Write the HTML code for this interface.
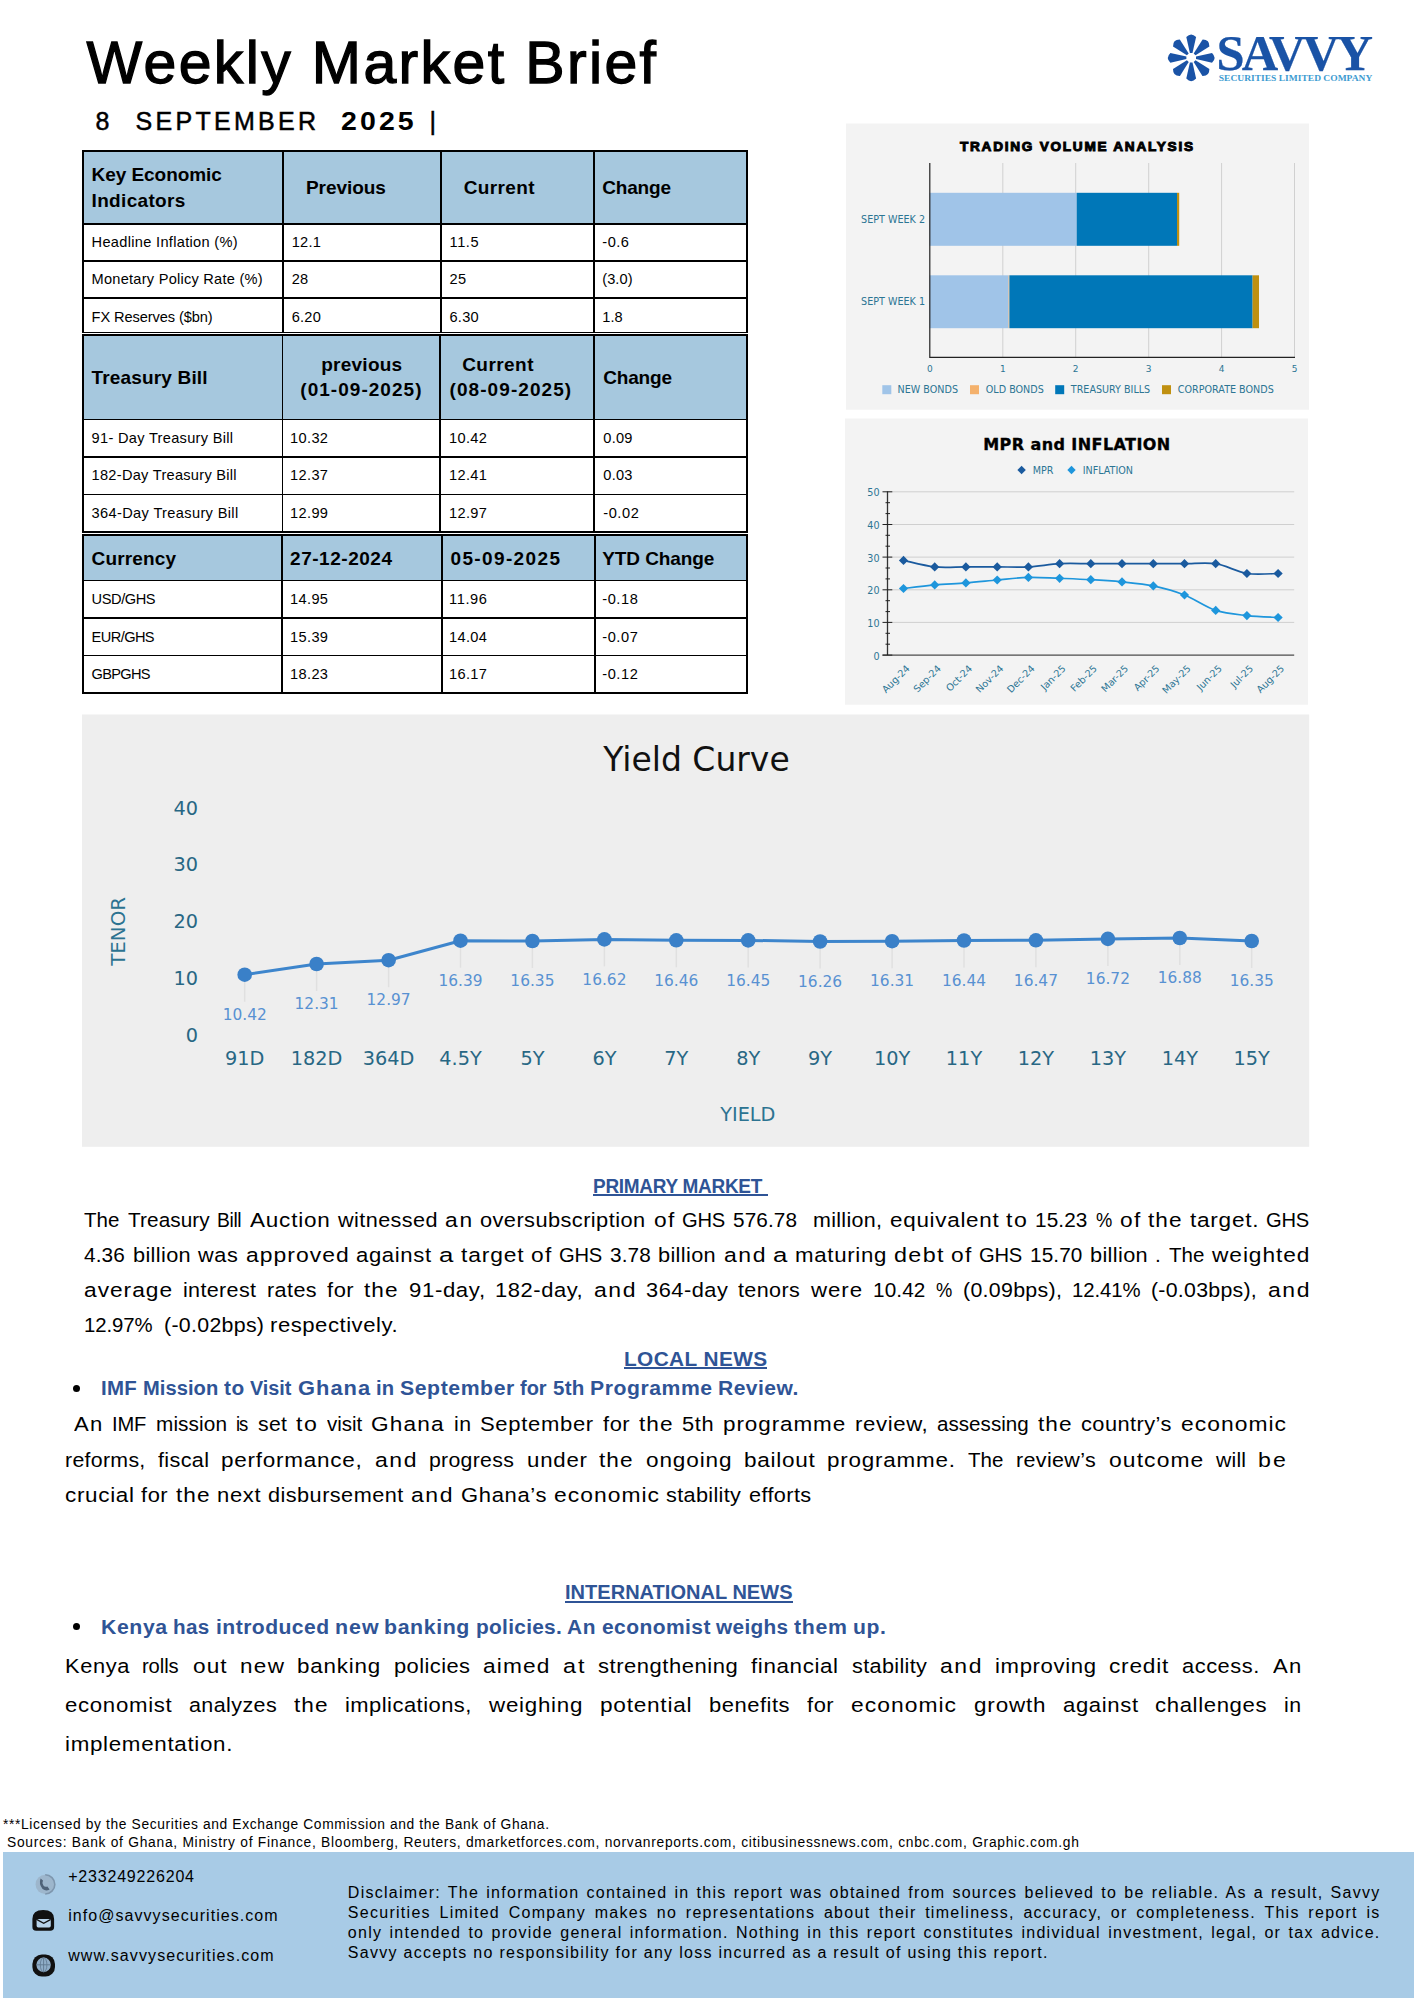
<!DOCTYPE html>
<html lang="en"><head><meta charset="utf-8"><title>Weekly Market Brief</title>
<style>
html,body{margin:0;padding:0;background:#fff;}
body{width:1414px;height:2000px;position:relative;overflow:hidden;font-family:"Liberation Sans",Arial,sans-serif;}
.t{position:absolute;white-space:pre;margin:0;padding:0;}
.b{position:absolute;}
svg{position:absolute;left:0;top:0;}
svg text{white-space:pre;}
</style></head><body>
<div class="t" style="left:86.5px;top:30px;font:normal 59px/66px 'Liberation Sans', Arial, sans-serif;color:#000;-webkit-text-stroke:1.3px #000;letter-spacing:2.374px;">Weekly Market Brief</div>
<div class="t" style="left:95.5px;top:107px;font:normal 25px/28px 'Liberation Sans', Arial, sans-serif;color:#000;-webkit-text-stroke:0.5px #000;">8</div>
<div class="t" style="left:135.6px;top:107px;font:normal 25px/28px 'Liberation Sans', Arial, sans-serif;color:#000;-webkit-text-stroke:0.5px #000;letter-spacing:3.287px;">SEPTEMBER</div>
<div class="t" style="left:341px;top:107px;font:bold 25px/28px 'Liberation Sans', Arial, sans-serif;color:#000;letter-spacing:2.716px;transform:scaleX(1.14);transform-origin:0 0;">2025</div>
<div class="t" style="left:429.5px;top:107px;font:normal 25px/28px 'Liberation Sans', Arial, sans-serif;color:#000;-webkit-text-stroke:0.5px #000;">|</div>
<svg width="1414" height="130" viewBox="0 0 1414 130">
<path transform="rotate(0 1191.2 57.8)" d="M1189.9 53.0 L1186.3 37.0 Q1191.2 31.799999999999997 1196.1000000000001 37.0 L1192.5 53.0 Z" fill="#1A53A6"/>
<path transform="rotate(45 1191.2 57.8)" d="M1189.9 53.0 L1186.3 37.0 Q1191.2 31.799999999999997 1196.1000000000001 37.0 L1192.5 53.0 Z" fill="#1A53A6"/>
<path transform="rotate(90 1191.2 57.8)" d="M1189.9 53.0 L1186.3 37.0 Q1191.2 31.799999999999997 1196.1000000000001 37.0 L1192.5 53.0 Z" fill="#1A53A6"/>
<path transform="rotate(135 1191.2 57.8)" d="M1189.9 53.0 L1186.3 37.0 Q1191.2 31.799999999999997 1196.1000000000001 37.0 L1192.5 53.0 Z" fill="#1A53A6"/>
<path transform="rotate(180 1191.2 57.8)" d="M1189.9 53.0 L1186.3 37.0 Q1191.2 31.799999999999997 1196.1000000000001 37.0 L1192.5 53.0 Z" fill="#1A53A6"/>
<path transform="rotate(225 1191.2 57.8)" d="M1189.9 53.0 L1186.3 37.0 Q1191.2 31.799999999999997 1196.1000000000001 37.0 L1192.5 53.0 Z" fill="#1A53A6"/>
<path transform="rotate(270 1191.2 57.8)" d="M1189.9 53.0 L1186.3 37.0 Q1191.2 31.799999999999997 1196.1000000000001 37.0 L1192.5 53.0 Z" fill="#1A53A6"/>
<path transform="rotate(315 1191.2 57.8)" d="M1189.9 53.0 L1186.3 37.0 Q1191.2 31.799999999999997 1196.1000000000001 37.0 L1192.5 53.0 Z" fill="#1A53A6"/>
<circle cx="1191.2" cy="57.8" r="3.4" fill="#fff"/>
<text x="1216.5" y="69.6" font-family="'Liberation Serif', 'Times New Roman', serif" font-weight="bold" font-size="50.5" fill="#1A53A6" stroke="#1A53A6" stroke-width="0.25" textLength="156.5" lengthAdjust="spacing">SAVVY</text>
<text x="1218.8" y="81" font-family="'Liberation Serif', 'Times New Roman', serif" font-weight="bold" font-size="8.9" fill="#3D9BD1" textLength="153.5" lengthAdjust="spacingAndGlyphs">SECURITIES LIMITED COMPANY</text>
</svg>
<div class="b" style="left:82.9px;top:151.0px;width:664.1px;height:73.0px;background:#A6C8DE;"></div>
<div class="b" style="left:82.025px;top:150.125px;width:665.85px;height:1.75px;background:#000;"></div>
<div class="b" style="left:82.025px;top:223.125px;width:665.85px;height:1.75px;background:#000;"></div>
<div class="b" style="left:82.025px;top:260.025px;width:665.85px;height:1.75px;background:#000;"></div>
<div class="b" style="left:82.025px;top:297.425px;width:665.85px;height:1.75px;background:#000;"></div>
<div class="b" style="left:82.025px;top:331.725px;width:665.85px;height:1.75px;background:#000;"></div>
<div class="b" style="left:82.025px;top:150.125px;width:1.75px;height:183.35000000000002px;background:#000;"></div>
<div class="b" style="left:282.325px;top:150.125px;width:1.75px;height:183.35000000000002px;background:#000;"></div>
<div class="b" style="left:440.425px;top:150.125px;width:1.75px;height:183.35000000000002px;background:#000;"></div>
<div class="b" style="left:593.125px;top:150.125px;width:1.75px;height:183.35000000000002px;background:#000;"></div>
<div class="b" style="left:746.125px;top:150.125px;width:1.75px;height:183.35000000000002px;background:#000;"></div>
<div class="t" style="left:91.6px;top:164px;font:bold 19px/21px 'Liberation Sans', Arial, sans-serif;color:#000;letter-spacing:-0.058px;">Key Economic</div>
<div class="t" style="left:91.6px;top:190px;font:bold 19px/21px 'Liberation Sans', Arial, sans-serif;color:#000;letter-spacing:0.321px;">Indicators</div>
<div class="t" style="left:305.9px;top:177px;font:bold 19px/21px 'Liberation Sans', Arial, sans-serif;color:#000;letter-spacing:-0.038px;">Previous</div>
<div class="t" style="left:463.8px;top:177px;font:bold 19px/21px 'Liberation Sans', Arial, sans-serif;color:#000;letter-spacing:0.346px;">Current</div>
<div class="t" style="left:602.3px;top:177px;font:bold 19px/21px 'Liberation Sans', Arial, sans-serif;color:#000;letter-spacing:-0.197px;">Change</div>
<div class="t" style="left:91.6px;top:234px;font:normal 14.6px/16px 'Liberation Sans', Arial, sans-serif;color:#000;letter-spacing:0.308px;">Headline Inflation (%)</div>
<div class="t" style="left:291.7px;top:234px;font:normal 14.6px/16px 'Liberation Sans', Arial, sans-serif;color:#000;letter-spacing:0.248px;">12.1</div>
<div class="t" style="left:449.5px;top:234px;font:normal 14.6px/16px 'Liberation Sans', Arial, sans-serif;color:#000;letter-spacing:0.607px;">11.5</div>
<div class="t" style="left:602.3px;top:234px;font:normal 14.6px/16px 'Liberation Sans', Arial, sans-serif;color:#000;letter-spacing:0.515px;">-0.6</div>
<div class="t" style="left:91.6px;top:271px;font:normal 14.6px/16px 'Liberation Sans', Arial, sans-serif;color:#000;letter-spacing:0.241px;">Monetary Policy Rate (%)</div>
<div class="t" style="left:291.7px;top:271px;font:normal 14.6px/16px 'Liberation Sans', Arial, sans-serif;color:#000;letter-spacing:0.266px;">28</div>
<div class="t" style="left:449.5px;top:271px;font:normal 14.6px/16px 'Liberation Sans', Arial, sans-serif;color:#000;letter-spacing:0.266px;">25</div>
<div class="t" style="left:602.3px;top:271px;font:normal 14.6px/16px 'Liberation Sans', Arial, sans-serif;color:#000;letter-spacing:0.046px;">(3.0)</div>
<div class="t" style="left:91.6px;top:309px;font:normal 14.6px/16px 'Liberation Sans', Arial, sans-serif;color:#000;letter-spacing:-0.092px;">FX Reserves ($bn)</div>
<div class="t" style="left:291.7px;top:309px;font:normal 14.6px/16px 'Liberation Sans', Arial, sans-serif;color:#000;letter-spacing:0.248px;">6.20</div>
<div class="t" style="left:449.5px;top:309px;font:normal 14.6px/16px 'Liberation Sans', Arial, sans-serif;color:#000;letter-spacing:0.248px;">6.30</div>
<div class="t" style="left:602.3px;top:309px;font:normal 14.6px/16px 'Liberation Sans', Arial, sans-serif;color:#000;letter-spacing:0.052px;">1.8</div>
<div class="b" style="left:82.9px;top:335.2px;width:664.2px;height:84.30000000000001px;background:#A6C8DE;"></div>
<div class="b" style="left:82.025px;top:334.325px;width:665.95px;height:1.75px;background:#000;"></div>
<div class="b" style="left:82.025px;top:418.625px;width:665.95px;height:1.75px;background:#000;"></div>
<div class="b" style="left:82.025px;top:456.125px;width:665.95px;height:1.75px;background:#000;"></div>
<div class="b" style="left:82.025px;top:493.625px;width:665.95px;height:1.75px;background:#000;"></div>
<div class="b" style="left:82.025px;top:530.825px;width:665.95px;height:1.75px;background:#000;"></div>
<div class="b" style="left:82.025px;top:334.325px;width:1.75px;height:198.25000000000006px;background:#000;"></div>
<div class="b" style="left:281.525px;top:334.325px;width:1.75px;height:198.25000000000006px;background:#000;"></div>
<div class="b" style="left:439.425px;top:334.325px;width:1.75px;height:198.25000000000006px;background:#000;"></div>
<div class="b" style="left:593.425px;top:334.325px;width:1.75px;height:198.25000000000006px;background:#000;"></div>
<div class="b" style="left:746.225px;top:334.325px;width:1.75px;height:198.25000000000006px;background:#000;"></div>
<div class="t" style="left:91.6px;top:367px;font:bold 19px/21px 'Liberation Sans', Arial, sans-serif;color:#000;letter-spacing:0.161px;">Treasury Bill</div>
<div class="t" style="left:321.2px;top:354px;font:bold 19px/21px 'Liberation Sans', Arial, sans-serif;color:#000;letter-spacing:0.257px;">previous</div>
<div class="t" style="left:300.3px;top:379px;font:bold 19px/21px 'Liberation Sans', Arial, sans-serif;color:#000;letter-spacing:1.032px;">(01-09-2025)</div>
<div class="t" style="left:462.2px;top:354px;font:bold 19px/21px 'Liberation Sans', Arial, sans-serif;color:#000;letter-spacing:0.446px;">Current</div>
<div class="t" style="left:449.5px;top:379px;font:bold 19px/21px 'Liberation Sans', Arial, sans-serif;color:#000;letter-spacing:1.078px;">(08-09-2025)</div>
<div class="t" style="left:603.3px;top:367px;font:bold 19px/21px 'Liberation Sans', Arial, sans-serif;color:#000;letter-spacing:-0.197px;">Change</div>
<div class="t" style="left:91.6px;top:430px;font:normal 14.6px/16px 'Liberation Sans', Arial, sans-serif;color:#000;letter-spacing:0.302px;">91- Day Treasury Bill</div>
<div class="t" style="left:290.1px;top:430px;font:normal 14.6px/16px 'Liberation Sans', Arial, sans-serif;color:#000;letter-spacing:0.342px;">10.32</div>
<div class="t" style="left:449px;top:430px;font:normal 14.6px/16px 'Liberation Sans', Arial, sans-serif;color:#000;letter-spacing:0.342px;">10.42</div>
<div class="t" style="left:603.3px;top:430px;font:normal 14.6px/16px 'Liberation Sans', Arial, sans-serif;color:#000;letter-spacing:0.248px;">0.09</div>
<div class="t" style="left:91.6px;top:467px;font:normal 14.6px/16px 'Liberation Sans', Arial, sans-serif;color:#000;letter-spacing:0.274px;">182-Day Treasury Bill</div>
<div class="t" style="left:290.1px;top:467px;font:normal 14.6px/16px 'Liberation Sans', Arial, sans-serif;color:#000;letter-spacing:0.342px;">12.37</div>
<div class="t" style="left:449px;top:467px;font:normal 14.6px/16px 'Liberation Sans', Arial, sans-serif;color:#000;letter-spacing:0.342px;">12.41</div>
<div class="t" style="left:603.3px;top:467px;font:normal 14.6px/16px 'Liberation Sans', Arial, sans-serif;color:#000;letter-spacing:0.248px;">0.03</div>
<div class="t" style="left:91.6px;top:505px;font:normal 14.6px/16px 'Liberation Sans', Arial, sans-serif;color:#000;letter-spacing:0.354px;">364-Day Treasury Bill</div>
<div class="t" style="left:290.1px;top:505px;font:normal 14.6px/16px 'Liberation Sans', Arial, sans-serif;color:#000;letter-spacing:0.342px;">12.99</div>
<div class="t" style="left:449px;top:505px;font:normal 14.6px/16px 'Liberation Sans', Arial, sans-serif;color:#000;letter-spacing:0.342px;">12.97</div>
<div class="t" style="left:603.3px;top:505px;font:normal 14.6px/16px 'Liberation Sans', Arial, sans-serif;color:#000;letter-spacing:0.546px;">-0.02</div>
<div class="b" style="left:82.9px;top:534.8px;width:663.9px;height:45.60000000000002px;background:#A6C8DE;"></div>
<div class="b" style="left:82.025px;top:533.925px;width:665.65px;height:1.75px;background:#000;"></div>
<div class="b" style="left:82.025px;top:579.525px;width:665.65px;height:1.75px;background:#000;"></div>
<div class="b" style="left:82.025px;top:617.125px;width:665.65px;height:1.75px;background:#000;"></div>
<div class="b" style="left:82.025px;top:654.625px;width:665.65px;height:1.75px;background:#000;"></div>
<div class="b" style="left:82.025px;top:691.925px;width:665.65px;height:1.75px;background:#000;"></div>
<div class="b" style="left:82.025px;top:533.925px;width:1.75px;height:159.75px;background:#000;"></div>
<div class="b" style="left:281.425px;top:533.925px;width:1.75px;height:159.75px;background:#000;"></div>
<div class="b" style="left:441.025px;top:533.925px;width:1.75px;height:159.75px;background:#000;"></div>
<div class="b" style="left:593.825px;top:533.925px;width:1.75px;height:159.75px;background:#000;"></div>
<div class="b" style="left:745.925px;top:533.925px;width:1.75px;height:159.75px;background:#000;"></div>
<div class="t" style="left:91.6px;top:548px;font:bold 19px/21px 'Liberation Sans', Arial, sans-serif;color:#000;letter-spacing:0.154px;">Currency</div>
<div class="t" style="left:290.1px;top:548px;font:bold 19px/21px 'Liberation Sans', Arial, sans-serif;color:#000;letter-spacing:0.522px;">27-12-2024</div>
<div class="t" style="left:450.5px;top:548px;font:bold 19px/21px 'Liberation Sans', Arial, sans-serif;color:#000;letter-spacing:1.366px;">05-09-2025</div>
<div class="t" style="left:602.3px;top:548px;font:bold 19px/21px 'Liberation Sans', Arial, sans-serif;color:#000;letter-spacing:-0.106px;">YTD Change</div>
<div class="t" style="left:91.6px;top:591px;font:normal 14.6px/16px 'Liberation Sans', Arial, sans-serif;color:#000;letter-spacing:-0.417px;">USD/GHS</div>
<div class="t" style="left:290.1px;top:591px;font:normal 14.6px/16px 'Liberation Sans', Arial, sans-serif;color:#000;letter-spacing:0.342px;">14.95</div>
<div class="t" style="left:449px;top:591px;font:normal 14.6px/16px 'Liberation Sans', Arial, sans-serif;color:#000;letter-spacing:0.616px;">11.96</div>
<div class="t" style="left:602.3px;top:591px;font:normal 14.6px/16px 'Liberation Sans', Arial, sans-serif;color:#000;letter-spacing:0.546px;">-0.18</div>
<div class="t" style="left:91.6px;top:629px;font:normal 14.6px/16px 'Liberation Sans', Arial, sans-serif;color:#000;letter-spacing:-0.583px;">EUR/GHS</div>
<div class="t" style="left:290.1px;top:629px;font:normal 14.6px/16px 'Liberation Sans', Arial, sans-serif;color:#000;letter-spacing:0.342px;">15.39</div>
<div class="t" style="left:449px;top:629px;font:normal 14.6px/16px 'Liberation Sans', Arial, sans-serif;color:#000;letter-spacing:0.342px;">14.04</div>
<div class="t" style="left:602.3px;top:629px;font:normal 14.6px/16px 'Liberation Sans', Arial, sans-serif;color:#000;letter-spacing:0.546px;">-0.07</div>
<div class="t" style="left:91.6px;top:666px;font:normal 14.6px/16px 'Liberation Sans', Arial, sans-serif;color:#000;letter-spacing:-0.691px;">GBPGHS</div>
<div class="t" style="left:290.1px;top:666px;font:normal 14.6px/16px 'Liberation Sans', Arial, sans-serif;color:#000;letter-spacing:0.342px;">18.23</div>
<div class="t" style="left:449px;top:666px;font:normal 14.6px/16px 'Liberation Sans', Arial, sans-serif;color:#000;letter-spacing:0.342px;">16.17</div>
<div class="t" style="left:602.3px;top:666px;font:normal 14.6px/16px 'Liberation Sans', Arial, sans-serif;color:#000;letter-spacing:0.546px;">-0.12</div>
<svg width="1414" height="1160" viewBox="0 0 1414 1160" style="top:0">
<rect x="846" y="123.5" width="463" height="286.2" fill="#F3F3F3"/>
<line x1="1002.8" y1="163" x2="1002.8" y2="357" stroke="#D0D0D0" stroke-width="1"/>
<line x1="1075.7" y1="163" x2="1075.7" y2="357" stroke="#D0D0D0" stroke-width="1"/>
<line x1="1148.7" y1="163" x2="1148.7" y2="357" stroke="#D0D0D0" stroke-width="1"/>
<line x1="1221.6" y1="163" x2="1221.6" y2="357" stroke="#D0D0D0" stroke-width="1"/>
<line x1="1294.5" y1="163" x2="1294.5" y2="357" stroke="#D0D0D0" stroke-width="1"/>
<rect x="929.6" y="192.8" width="147.1" height="53.0" fill="#A0C4E8"/>
<rect x="1076.7" y="192.8" width="100.3" height="53.0" fill="#0077B8"/>
<rect x="1177.0" y="192.8" width="2.2" height="53.0" fill="#C09010"/>
<rect x="929.6" y="275.3" width="79.0" height="52.9" fill="#A0C4E8"/>
<rect x="1008.6" y="275.3" width="0.8" height="52.9" fill="#F4B16C"/>
<rect x="1009.4" y="275.3" width="243.2" height="52.9" fill="#0077B8"/>
<rect x="1252.6" y="275.3" width="6.4" height="52.9" fill="#C09010"/>
<path d="M929.8 163 V357.3 H1295.0" fill="none" stroke="#222" stroke-width="1.2"/>
<text x="1076.5" y="151.4" text-anchor="middle" font-family="'Liberation Sans', Arial, sans-serif" font-weight="bold" font-size="13.6" fill="#000" stroke="#000" stroke-width="1" textLength="233" lengthAdjust="spacing">TRADING VOLUME ANALYSIS</text>
<g font-family="'DejaVu Sans', Verdana, sans-serif" font-size="9.6" fill="#2C7593">
<text x="925" y="223" text-anchor="end">SEPT WEEK 2</text>
<text x="925" y="305.4" text-anchor="end">SEPT WEEK 1</text>
<text x="929.8" y="371.6" text-anchor="middle" font-size="9">0</text>
<text x="1002.8" y="371.6" text-anchor="middle" font-size="9">1</text>
<text x="1075.7" y="371.6" text-anchor="middle" font-size="9">2</text>
<text x="1148.7" y="371.6" text-anchor="middle" font-size="9">3</text>
<text x="1221.6" y="371.6" text-anchor="middle" font-size="9">4</text>
<text x="1294.5" y="371.6" text-anchor="middle" font-size="9">5</text>
<rect x="882.3" y="385.2" width="9" height="9" fill="#A0C4E8"/>
<text x="897.6" y="393.4">NEW BONDS</text>
<rect x="970" y="385.2" width="9" height="9" fill="#F4B16C"/>
<text x="985.8" y="393.4">OLD BONDS</text>
<rect x="1055.2" y="385.2" width="9" height="9" fill="#0077B8"/>
<text x="1070.8" y="393.4">TREASURY BILLS</text>
<rect x="1162" y="385.2" width="9" height="9" fill="#C09010"/>
<text x="1177.8" y="393.4">CORPORATE BONDS</text>
</g>
<rect x="845" y="418.5" width="463" height="286.2" fill="#F3F3F3"/>
<line x1="887.5" y1="622.4" x2="1294.2" y2="622.4" stroke="#CFCFCF" stroke-width="1"/>
<line x1="887.5" y1="589.8" x2="1294.2" y2="589.8" stroke="#CFCFCF" stroke-width="1"/>
<line x1="887.5" y1="557.1" x2="1294.2" y2="557.1" stroke="#CFCFCF" stroke-width="1"/>
<line x1="887.5" y1="524.5" x2="1294.2" y2="524.5" stroke="#CFCFCF" stroke-width="1"/>
<line x1="887.5" y1="491.8" x2="1294.2" y2="491.8" stroke="#CFCFCF" stroke-width="1"/>
<path d="M887.5 491.3 V655.1" fill="none" stroke="#333" stroke-width="1.3"/>
<path d="M882.5 655.1 H1294.2" fill="none" stroke="#222" stroke-width="1"/>
<line x1="882.5" y1="655.1" x2="892.3" y2="655.1" stroke="#222" stroke-width="1"/>
<line x1="885.5" y1="644.2" x2="890" y2="644.2" stroke="#222" stroke-width="1"/>
<line x1="885.5" y1="633.3" x2="890" y2="633.3" stroke="#222" stroke-width="1"/>
<line x1="882.5" y1="622.4" x2="892.3" y2="622.4" stroke="#222" stroke-width="1"/>
<line x1="885.5" y1="611.6" x2="890" y2="611.6" stroke="#222" stroke-width="1"/>
<line x1="885.5" y1="600.7" x2="890" y2="600.7" stroke="#222" stroke-width="1"/>
<line x1="882.5" y1="589.8" x2="892.3" y2="589.8" stroke="#222" stroke-width="1"/>
<line x1="885.5" y1="578.9" x2="890" y2="578.9" stroke="#222" stroke-width="1"/>
<line x1="885.5" y1="568.0" x2="890" y2="568.0" stroke="#222" stroke-width="1"/>
<line x1="882.5" y1="557.1" x2="892.3" y2="557.1" stroke="#222" stroke-width="1"/>
<line x1="885.5" y1="546.2" x2="890" y2="546.2" stroke="#222" stroke-width="1"/>
<line x1="885.5" y1="535.3" x2="890" y2="535.3" stroke="#222" stroke-width="1"/>
<line x1="882.5" y1="524.5" x2="892.3" y2="524.5" stroke="#222" stroke-width="1"/>
<line x1="885.5" y1="513.6" x2="890" y2="513.6" stroke="#222" stroke-width="1"/>
<line x1="885.5" y1="502.7" x2="890" y2="502.7" stroke="#222" stroke-width="1"/>
<line x1="882.5" y1="491.8" x2="892.3" y2="491.8" stroke="#222" stroke-width="1"/>
<text x="1076.7" y="450" text-anchor="middle" font-family="'DejaVu Sans', Verdana, sans-serif" font-weight="bold" font-size="16" fill="#000" stroke="#000" stroke-width="0.35" textLength="187" lengthAdjust="spacing">MPR and INFLATION</text>
<path d="M903.5 560.4 C908.5 561.4 924.7 565.9 934.7 566.9 C944.7 568.0 955.9 566.9 965.9 566.9 C975.9 566.9 987.2 566.9 997.2 566.9 C1007.2 566.9 1018.4 567.4 1028.4 566.9 C1038.4 566.4 1049.6 564.2 1059.6 563.7 C1069.6 563.1 1080.8 563.7 1090.8 563.7 C1100.8 563.7 1112.0 563.7 1122.0 563.7 C1132.0 563.7 1143.3 563.7 1153.3 563.7 C1163.3 563.7 1174.5 563.7 1184.5 563.7 C1194.5 563.7 1205.7 562.1 1215.7 563.7 C1225.7 565.2 1236.9 571.9 1246.9 573.5 C1256.9 575.0 1273.1 573.5 1278.1 573.5" fill="none" stroke="#1A5A9E" stroke-width="1.7"/>
<path d="M903.5 555.8 L908.1 560.4 L903.5 565.0 L898.9 560.4 Z" fill="#1A5A9E"/>
<path d="M934.7 562.3 L939.3 566.9 L934.7 571.5 L930.1 566.9 Z" fill="#1A5A9E"/>
<path d="M965.9 562.3 L970.5 566.9 L965.9 571.5 L961.3 566.9 Z" fill="#1A5A9E"/>
<path d="M997.2 562.3 L1001.8 566.9 L997.2 571.5 L992.6 566.9 Z" fill="#1A5A9E"/>
<path d="M1028.4 562.3 L1033.0 566.9 L1028.4 571.5 L1023.8 566.9 Z" fill="#1A5A9E"/>
<path d="M1059.6 559.1 L1064.2 563.7 L1059.6 568.3 L1055.0 563.7 Z" fill="#1A5A9E"/>
<path d="M1090.8 559.1 L1095.4 563.7 L1090.8 568.3 L1086.2 563.7 Z" fill="#1A5A9E"/>
<path d="M1122.0 559.1 L1126.6 563.7 L1122.0 568.3 L1117.4 563.7 Z" fill="#1A5A9E"/>
<path d="M1153.3 559.1 L1157.9 563.7 L1153.3 568.3 L1148.7 563.7 Z" fill="#1A5A9E"/>
<path d="M1184.5 559.1 L1189.1 563.7 L1184.5 568.3 L1179.9 563.7 Z" fill="#1A5A9E"/>
<path d="M1215.7 559.1 L1220.3 563.7 L1215.7 568.3 L1211.1 563.7 Z" fill="#1A5A9E"/>
<path d="M1246.9 568.9 L1251.5 573.5 L1246.9 578.1 L1242.3 573.5 Z" fill="#1A5A9E"/>
<path d="M1278.1 568.9 L1282.7 573.5 L1278.1 578.1 L1273.5 573.5 Z" fill="#1A5A9E"/>
<path d="M903.5 588.5 C908.5 587.9 924.7 585.8 934.7 584.9 C944.7 584.0 955.9 583.7 965.9 582.9 C975.9 582.1 987.2 580.9 997.2 580.0 C1007.2 579.1 1018.4 577.6 1028.4 577.4 C1038.4 577.1 1049.6 578.0 1059.6 578.3 C1069.6 578.7 1080.8 579.1 1090.8 579.7 C1100.8 580.2 1112.0 580.9 1122.0 581.9 C1132.0 582.9 1143.3 583.8 1153.3 585.9 C1163.3 588.0 1174.5 591.1 1184.5 595.0 C1194.5 598.9 1205.7 607.1 1215.7 610.4 C1225.7 613.6 1236.9 614.4 1246.9 615.6 C1256.9 616.7 1273.1 617.2 1278.1 617.5" fill="none" stroke="#1E96DC" stroke-width="1.7"/>
<path d="M903.5 583.9 L908.1 588.5 L903.5 593.1 L898.9 588.5 Z" fill="#1E96DC"/>
<path d="M934.7 580.3 L939.3 584.9 L934.7 589.5 L930.1 584.9 Z" fill="#1E96DC"/>
<path d="M965.9 578.3 L970.5 582.9 L965.9 587.5 L961.3 582.9 Z" fill="#1E96DC"/>
<path d="M997.2 575.4 L1001.8 580.0 L997.2 584.6 L992.6 580.0 Z" fill="#1E96DC"/>
<path d="M1028.4 572.8 L1033.0 577.4 L1028.4 582.0 L1023.8 577.4 Z" fill="#1E96DC"/>
<path d="M1059.6 573.7 L1064.2 578.3 L1059.6 582.9 L1055.0 578.3 Z" fill="#1E96DC"/>
<path d="M1090.8 575.1 L1095.4 579.7 L1090.8 584.3 L1086.2 579.7 Z" fill="#1E96DC"/>
<path d="M1122.0 577.3 L1126.6 581.9 L1122.0 586.5 L1117.4 581.9 Z" fill="#1E96DC"/>
<path d="M1153.3 581.3 L1157.9 585.9 L1153.3 590.5 L1148.7 585.9 Z" fill="#1E96DC"/>
<path d="M1184.5 590.4 L1189.1 595.0 L1184.5 599.6 L1179.9 595.0 Z" fill="#1E96DC"/>
<path d="M1215.7 605.8 L1220.3 610.4 L1215.7 615.0 L1211.1 610.4 Z" fill="#1E96DC"/>
<path d="M1246.9 611.0 L1251.5 615.6 L1246.9 620.2 L1242.3 615.6 Z" fill="#1E96DC"/>
<path d="M1278.1 612.9 L1282.7 617.5 L1278.1 622.1 L1273.5 617.5 Z" fill="#1E96DC"/>
<g font-family="'DejaVu Sans', Verdana, sans-serif" font-size="9.6" fill="#2C7593">
<text x="879.5" y="659.5" text-anchor="end">0</text>
<text x="879.5" y="626.8" text-anchor="end">10</text>
<text x="879.5" y="594.2" text-anchor="end">20</text>
<text x="879.5" y="561.5" text-anchor="end">30</text>
<text x="879.5" y="528.9" text-anchor="end">40</text>
<text x="879.5" y="496.2" text-anchor="end">50</text>
<path d="M1021.6 465.8 L1025.8 470 L1021.6 474.2 L1017.4 470 Z" fill="#1A5A9E"/>
<text x="1032.8" y="473.6">MPR</text>
<path d="M1071.5 465.8 L1075.7 470 L1071.5 474.2 L1067.3 470 Z" fill="#1E96DC"/>
<text x="1082.7" y="473.6">INFLATION</text>
<text transform="translate(910.3 669.2) rotate(-45)" text-anchor="end">Aug-24</text>
<text transform="translate(941.5 669.2) rotate(-45)" text-anchor="end">Sep-24</text>
<text transform="translate(972.7 669.2) rotate(-45)" text-anchor="end">Oct-24</text>
<text transform="translate(1004.0 669.2) rotate(-45)" text-anchor="end">Nov-24</text>
<text transform="translate(1035.2 669.2) rotate(-45)" text-anchor="end">Dec-24</text>
<text transform="translate(1066.4 669.2) rotate(-45)" text-anchor="end">Jan-25</text>
<text transform="translate(1097.6 669.2) rotate(-45)" text-anchor="end">Feb-25</text>
<text transform="translate(1128.8 669.2) rotate(-45)" text-anchor="end">Mar-25</text>
<text transform="translate(1160.1 669.2) rotate(-45)" text-anchor="end">Apr-25</text>
<text transform="translate(1191.3 669.2) rotate(-45)" text-anchor="end">May-25</text>
<text transform="translate(1222.5 669.2) rotate(-45)" text-anchor="end">Jun-25</text>
<text transform="translate(1253.7 669.2) rotate(-45)" text-anchor="end">Jul-25</text>
<text transform="translate(1284.9 669.2) rotate(-45)" text-anchor="end">Aug-25</text>
</g>
<rect x="82" y="714.5" width="1227.2" height="432.3" fill="#EEEEEE"/>
<text x="696.5" y="770.5" text-anchor="middle" font-family="'DejaVu Sans', Verdana, sans-serif" font-size="33" fill="#111">Yield Curve</text>
<line x1="244.7" y1="974.7" x2="244.7" y2="1001.7" stroke="#E0E0E0" stroke-width="1.5"/>
<line x1="316.6" y1="964.0" x2="316.6" y2="991.0" stroke="#E0E0E0" stroke-width="1.5"/>
<line x1="388.6" y1="960.2" x2="388.6" y2="987.2" stroke="#E0E0E0" stroke-width="1.5"/>
<line x1="460.5" y1="940.7" x2="460.5" y2="967.7" stroke="#E0E0E0" stroke-width="1.5"/>
<line x1="532.4" y1="941.0" x2="532.4" y2="968.0" stroke="#E0E0E0" stroke-width="1.5"/>
<line x1="604.4" y1="939.4" x2="604.4" y2="966.4" stroke="#E0E0E0" stroke-width="1.5"/>
<line x1="676.3" y1="940.3" x2="676.3" y2="967.3" stroke="#E0E0E0" stroke-width="1.5"/>
<line x1="748.2" y1="940.4" x2="748.2" y2="967.4" stroke="#E0E0E0" stroke-width="1.5"/>
<line x1="820.1" y1="941.5" x2="820.1" y2="968.5" stroke="#E0E0E0" stroke-width="1.5"/>
<line x1="892.1" y1="941.2" x2="892.1" y2="968.2" stroke="#E0E0E0" stroke-width="1.5"/>
<line x1="964.0" y1="940.5" x2="964.0" y2="967.5" stroke="#E0E0E0" stroke-width="1.5"/>
<line x1="1035.9" y1="940.3" x2="1035.9" y2="967.3" stroke="#E0E0E0" stroke-width="1.5"/>
<line x1="1107.9" y1="938.9" x2="1107.9" y2="965.9" stroke="#E0E0E0" stroke-width="1.5"/>
<line x1="1179.8" y1="938.0" x2="1179.8" y2="965.0" stroke="#E0E0E0" stroke-width="1.5"/>
<line x1="1251.7" y1="941.0" x2="1251.7" y2="968.0" stroke="#E0E0E0" stroke-width="1.5"/>
<path d="M244.7 974.7 L316.6 964.0 L388.6 960.2 L460.5 940.7 L532.4 941.0 L604.4 939.4 L676.3 940.3 L748.2 940.4 L820.1 941.5 L892.1 941.2 L964.0 940.5 L1035.9 940.3 L1107.9 938.9 L1179.8 938.0 L1251.7 941.0" fill="none" stroke="#3D85CC" stroke-width="3" stroke-linejoin="round"/>
<circle cx="244.7" cy="974.7" r="7.3" fill="#3A80C8"/>
<circle cx="316.6" cy="964.0" r="7.3" fill="#3A80C8"/>
<circle cx="388.6" cy="960.2" r="7.3" fill="#3A80C8"/>
<circle cx="460.5" cy="940.7" r="7.3" fill="#3A80C8"/>
<circle cx="532.4" cy="941.0" r="7.3" fill="#3A80C8"/>
<circle cx="604.4" cy="939.4" r="7.3" fill="#3A80C8"/>
<circle cx="676.3" cy="940.3" r="7.3" fill="#3A80C8"/>
<circle cx="748.2" cy="940.4" r="7.3" fill="#3A80C8"/>
<circle cx="820.1" cy="941.5" r="7.3" fill="#3A80C8"/>
<circle cx="892.1" cy="941.2" r="7.3" fill="#3A80C8"/>
<circle cx="964.0" cy="940.5" r="7.3" fill="#3A80C8"/>
<circle cx="1035.9" cy="940.3" r="7.3" fill="#3A80C8"/>
<circle cx="1107.9" cy="938.9" r="7.3" fill="#3A80C8"/>
<circle cx="1179.8" cy="938.0" r="7.3" fill="#3A80C8"/>
<circle cx="1251.7" cy="941.0" r="7.3" fill="#3A80C8"/>
<g font-family="'DejaVu Sans', Verdana, sans-serif" font-size="15.4" fill="#5891D2" text-anchor="middle">
<text x="244.7" y="1019.9">10.42</text>
<text x="316.6" y="1009.2">12.31</text>
<text x="388.6" y="1005.4">12.97</text>
<text x="460.5" y="985.9">16.39</text>
<text x="532.4" y="986.2">16.35</text>
<text x="604.4" y="984.6">16.62</text>
<text x="676.3" y="985.5">16.46</text>
<text x="748.2" y="985.6">16.45</text>
<text x="820.1" y="986.7">16.26</text>
<text x="892.1" y="986.4">16.31</text>
<text x="964.0" y="985.7">16.44</text>
<text x="1035.9" y="985.5">16.47</text>
<text x="1107.9" y="984.1">16.72</text>
<text x="1179.8" y="983.2">16.88</text>
<text x="1251.7" y="986.2">16.35</text>
</g>
<g font-family="'DejaVu Sans', Verdana, sans-serif" font-size="19.3" fill="#286784">
<text x="198" y="1042.1" text-anchor="end">0</text>
<text x="198" y="985.2" text-anchor="end">10</text>
<text x="198" y="928.3" text-anchor="end">20</text>
<text x="198" y="871.4" text-anchor="end">30</text>
<text x="198" y="814.5" text-anchor="end">40</text>
<text x="244.7" y="1065.4" text-anchor="middle">91D</text>
<text x="316.6" y="1065.4" text-anchor="middle">182D</text>
<text x="388.6" y="1065.4" text-anchor="middle">364D</text>
<text x="460.5" y="1065.4" text-anchor="middle">4.5Y</text>
<text x="532.4" y="1065.4" text-anchor="middle">5Y</text>
<text x="604.4" y="1065.4" text-anchor="middle">6Y</text>
<text x="676.3" y="1065.4" text-anchor="middle">7Y</text>
<text x="748.2" y="1065.4" text-anchor="middle">8Y</text>
<text x="820.1" y="1065.4" text-anchor="middle">9Y</text>
<text x="892.1" y="1065.4" text-anchor="middle">10Y</text>
<text x="964.0" y="1065.4" text-anchor="middle">11Y</text>
<text x="1035.9" y="1065.4" text-anchor="middle">12Y</text>
<text x="1107.9" y="1065.4" text-anchor="middle">13Y</text>
<text x="1179.8" y="1065.4" text-anchor="middle">14Y</text>
<text x="1251.7" y="1065.4" text-anchor="middle">15Y</text>
<text x="747.8" y="1120.6" text-anchor="middle" fill="#2C7391">YIELD</text>
<text transform="translate(124.6 931.4) rotate(-90)" text-anchor="middle" fill="#2C7391" font-size="19.8">TENOR</text>
</g>
</svg>
<div class="t" style="left:593.1px;top:1175px;font:bold 19.6px/22px 'Liberation Sans', Arial, sans-serif;color:#2F5496;letter-spacing:-0.289px;transform:scaleX(0.9686);transform-origin:0 0;">PRIMARY MARKET</div>
<div class="b" style="left:593.1px;top:1194.3px;width:174.89999999999998px;height:1.6px;background:#2F5496;"></div>
<div class="t" style="left:84.3px;top:1208px;font:normal 20.5px/23px 'Liberation Sans', Arial, sans-serif;color:#000;letter-spacing:0.016px;transform:scaleX(1.0013);transform-origin:0 0;">The </div>
<div class="t" style="left:127.68px;top:1208px;font:normal 20.5px/23px 'Liberation Sans', Arial, sans-serif;color:#000;letter-spacing:0.092px;transform:scaleX(1.0121);transform-origin:0 0;">Treasury </div>
<div class="t" style="left:217.41px;top:1208px;font:normal 20.5px/23px 'Liberation Sans', Arial, sans-serif;color:#000;letter-spacing:-0.37px;transform:scaleX(0.9398);transform-origin:0 0;">Bill </div>
<div class="t" style="left:250.04px;top:1208px;font:normal 20.5px/23px 'Liberation Sans', Arial, sans-serif;color:#000;letter-spacing:0.724px;transform:scaleX(1.0968);transform-origin:0 0;">Auction </div>
<div class="t" style="left:337.8px;top:1208px;font:normal 20.5px/23px 'Liberation Sans', Arial, sans-serif;color:#000;letter-spacing:0.408px;transform:scaleX(1.0542);transform-origin:0 0;">witnessed </div>
<div class="t" style="left:445.34px;top:1208px;font:normal 20.5px/23px 'Liberation Sans', Arial, sans-serif;color:#000;letter-spacing:1.646px;transform:scaleX(1.1102);transform-origin:0 0;">an </div>
<div class="t" style="left:480.47px;top:1208px;font:normal 20.5px/23px 'Liberation Sans', Arial, sans-serif;color:#000;letter-spacing:0.409px;transform:scaleX(1.0622);transform-origin:0 0;">oversubscription </div>
<div class="t" style="left:653.51px;top:1208px;font:normal 20.5px/23px 'Liberation Sans', Arial, sans-serif;color:#000;letter-spacing:1.229px;transform:scaleX(1.1096);transform-origin:0 0;">of </div>
<div class="t" style="left:681.83px;top:1208px;font:normal 20.5px/23px 'Liberation Sans', Arial, sans-serif;color:#000;letter-spacing:-0.267px;transform:scaleX(0.982);transform-origin:0 0;">GHS </div>
<div class="t" style="left:732.92px;top:1208px;font:normal 20.5px/23px 'Liberation Sans', Arial, sans-serif;color:#000;letter-spacing:0.102px;transform:scaleX(1.0122);transform-origin:0 0;">576.78 </div>
<div class="t" style="left:812.86px;top:1208px;font:normal 20.5px/23px 'Liberation Sans', Arial, sans-serif;color:#000;letter-spacing:0.284px;transform:scaleX(1.0471);transform-origin:0 0;">million, </div>
<div class="t" style="left:889.72px;top:1208px;font:normal 20.5px/23px 'Liberation Sans', Arial, sans-serif;color:#000;letter-spacing:0.646px;transform:scaleX(1.0948);transform-origin:0 0;">equivalent </div>
<div class="t" style="left:1006.39px;top:1208px;font:normal 20.5px/23px 'Liberation Sans', Arial, sans-serif;color:#000;letter-spacing:1.417px;transform:scaleX(1.1267);transform-origin:0 0;">to </div>
<div class="t" style="left:1035.24px;top:1208px;font:normal 20.5px/23px 'Liberation Sans', Arial, sans-serif;color:#000;letter-spacing:0.103px;transform:scaleX(1.0121);transform-origin:0 0;">15.23 </div>
<div class="t" style="left:1095.57px;top:1208px;font:normal 20.5px/23px 'Liberation Sans', Arial, sans-serif;color:#000;letter-spacing:0px;transform:scaleX(0.8925);transform-origin:0 0;">% </div>
<div class="t" style="left:1119.83px;top:1208px;font:normal 20.5px/23px 'Liberation Sans', Arial, sans-serif;color:#000;letter-spacing:1.229px;transform:scaleX(1.1096);transform-origin:0 0;">of </div>
<div class="t" style="left:1148.15px;top:1208px;font:normal 20.5px/23px 'Liberation Sans', Arial, sans-serif;color:#000;letter-spacing:0.966px;transform:scaleX(1.1034);transform-origin:0 0;">the </div>
<div class="t" style="left:1189.71px;top:1208px;font:normal 20.5px/23px 'Liberation Sans', Arial, sans-serif;color:#000;letter-spacing:0.658px;transform:scaleX(1.1036);transform-origin:0 0;">target. </div>
<div class="t" style="left:1266.19px;top:1208px;font:normal 20.5px/23px 'Liberation Sans', Arial, sans-serif;color:#000;letter-spacing:-0.267px;transform:scaleX(0.982);transform-origin:0 0;">GHS </div>
<div class="t" style="left:84.3px;top:1243px;font:normal 20.5px/23px 'Liberation Sans', Arial, sans-serif;color:#000;letter-spacing:0.108px;transform:scaleX(1.0122);transform-origin:0 0;">4.36 </div>
<div class="t" style="left:132.69px;top:1243px;font:normal 20.5px/23px 'Liberation Sans', Arial, sans-serif;color:#000;letter-spacing:0.341px;transform:scaleX(1.0591);transform-origin:0 0;">billion </div>
<div class="t" style="left:198.04px;top:1243px;font:normal 20.5px/23px 'Liberation Sans', Arial, sans-serif;color:#000;letter-spacing:0.676px;transform:scaleX(1.0561);transform-origin:0 0;">was </div>
<div class="t" style="left:245.66px;top:1243px;font:normal 20.5px/23px 'Liberation Sans', Arial, sans-serif;color:#000;letter-spacing:0.932px;transform:scaleX(1.1166);transform-origin:0 0;">approved </div>
<div class="t" style="left:356.06px;top:1243px;font:normal 20.5px/23px 'Liberation Sans', Arial, sans-serif;color:#000;letter-spacing:0.576px;transform:scaleX(1.0795);transform-origin:0 0;">against </div>
<div class="t" style="left:438.82px;top:1243px;font:normal 20.5px/23px 'Liberation Sans', Arial, sans-serif;color:#000;letter-spacing:0px;transform:scaleX(1.2575);transform-origin:0 0;">a </div>
<div class="t" style="left:460.84px;top:1243px;font:normal 20.5px/23px 'Liberation Sans', Arial, sans-serif;color:#000;letter-spacing:0.777px;transform:scaleX(1.1132);transform-origin:0 0;">target </div>
<div class="t" style="left:531.19px;top:1243px;font:normal 20.5px/23px 'Liberation Sans', Arial, sans-serif;color:#000;letter-spacing:1.229px;transform:scaleX(1.1096);transform-origin:0 0;">of </div>
<div class="t" style="left:559.21px;top:1243px;font:normal 20.5px/23px 'Liberation Sans', Arial, sans-serif;color:#000;letter-spacing:-0.267px;transform:scaleX(0.982);transform-origin:0 0;">GHS </div>
<div class="t" style="left:609.99px;top:1243px;font:normal 20.5px/23px 'Liberation Sans', Arial, sans-serif;color:#000;letter-spacing:0.108px;transform:scaleX(1.0122);transform-origin:0 0;">3.78 </div>
<div class="t" style="left:658.38px;top:1243px;font:normal 20.5px/23px 'Liberation Sans', Arial, sans-serif;color:#000;letter-spacing:0.341px;transform:scaleX(1.0591);transform-origin:0 0;">billion </div>
<div class="t" style="left:723.73px;top:1243px;font:normal 20.5px/23px 'Liberation Sans', Arial, sans-serif;color:#000;letter-spacing:1.379px;transform:scaleX(1.1233);transform-origin:0 0;">and </div>
<div class="t" style="left:772.94px;top:1243px;font:normal 20.5px/23px 'Liberation Sans', Arial, sans-serif;color:#000;letter-spacing:0px;transform:scaleX(1.2575);transform-origin:0 0;">a </div>
<div class="t" style="left:794.95px;top:1243px;font:normal 20.5px/23px 'Liberation Sans', Arial, sans-serif;color:#000;letter-spacing:0.637px;transform:scaleX(1.0851);transform-origin:0 0;">maturing </div>
<div class="t" style="left:894.02px;top:1243px;font:normal 20.5px/23px 'Liberation Sans', Arial, sans-serif;color:#000;letter-spacing:1.194px;transform:scaleX(1.1377);transform-origin:0 0;">debt </div>
<div class="t" style="left:951.16px;top:1243px;font:normal 20.5px/23px 'Liberation Sans', Arial, sans-serif;color:#000;letter-spacing:1.229px;transform:scaleX(1.1096);transform-origin:0 0;">of </div>
<div class="t" style="left:979.18px;top:1243px;font:normal 20.5px/23px 'Liberation Sans', Arial, sans-serif;color:#000;letter-spacing:-0.267px;transform:scaleX(0.982);transform-origin:0 0;">GHS </div>
<div class="t" style="left:1029.96px;top:1243px;font:normal 20.5px/23px 'Liberation Sans', Arial, sans-serif;color:#000;letter-spacing:0.103px;transform:scaleX(1.0121);transform-origin:0 0;">15.70 </div>
<div class="t" style="left:1089.98px;top:1243px;font:normal 20.5px/23px 'Liberation Sans', Arial, sans-serif;color:#000;letter-spacing:0.341px;transform:scaleX(1.0591);transform-origin:0 0;">billion </div>
<div class="t" style="left:1155.34px;top:1243px;font:normal 20.5px/23px 'Liberation Sans', Arial, sans-serif;color:#000;letter-spacing:0px;transform:scaleX(1.02);transform-origin:0 0;">. </div>
<div class="t" style="left:1168.83px;top:1243px;font:normal 20.5px/23px 'Liberation Sans', Arial, sans-serif;color:#000;letter-spacing:0.016px;transform:scaleX(1.0013);transform-origin:0 0;">The </div>
<div class="t" style="left:1211.9px;top:1243px;font:normal 20.5px/23px 'Liberation Sans', Arial, sans-serif;color:#000;letter-spacing:0.832px;transform:scaleX(1.1083);transform-origin:0 0;">weighted </div>
<div class="t" style="left:84.3px;top:1278px;font:normal 20.5px/23px 'Liberation Sans', Arial, sans-serif;color:#000;letter-spacing:0.884px;transform:scaleX(1.1093);transform-origin:0 0;">average </div>
<div class="t" style="left:183.04px;top:1278px;font:normal 20.5px/23px 'Liberation Sans', Arial, sans-serif;color:#000;letter-spacing:0.322px;transform:scaleX(1.0508);transform-origin:0 0;">interest </div>
<div class="t" style="left:266.73px;top:1278px;font:normal 20.5px/23px 'Liberation Sans', Arial, sans-serif;color:#000;letter-spacing:0.39px;transform:scaleX(1.0518);transform-origin:0 0;">rates </div>
<div class="t" style="left:326.97px;top:1278px;font:normal 20.5px/23px 'Liberation Sans', Arial, sans-serif;color:#000;letter-spacing:0.529px;transform:scaleX(1.067);transform-origin:0 0;">for </div>
<div class="t" style="left:364.31px;top:1278px;font:normal 20.5px/23px 'Liberation Sans', Arial, sans-serif;color:#000;letter-spacing:0.966px;transform:scaleX(1.1034);transform-origin:0 0;">the </div>
<div class="t" style="left:408.56px;top:1278px;font:normal 20.5px/23px 'Liberation Sans', Arial, sans-serif;color:#000;letter-spacing:0.589px;transform:scaleX(1.0803);transform-origin:0 0;">91-day, </div>
<div class="t" style="left:495.26px;top:1278px;font:normal 20.5px/23px 'Liberation Sans', Arial, sans-serif;color:#000;letter-spacing:0.519px;transform:scaleX(1.0705);transform-origin:0 0;">182-day, </div>
<div class="t" style="left:593.61px;top:1278px;font:normal 20.5px/23px 'Liberation Sans', Arial, sans-serif;color:#000;letter-spacing:1.379px;transform:scaleX(1.1233);transform-origin:0 0;">and </div>
<div class="t" style="left:645.81px;top:1278px;font:normal 20.5px/23px 'Liberation Sans', Arial, sans-serif;color:#000;letter-spacing:0.502px;transform:scaleX(1.0616);transform-origin:0 0;">364-day </div>
<div class="t" style="left:738.34px;top:1278px;font:normal 20.5px/23px 'Liberation Sans', Arial, sans-serif;color:#000;letter-spacing:0.376px;transform:scaleX(1.0499);transform-origin:0 0;">tenors </div>
<div class="t" style="left:810.81px;top:1278px;font:normal 20.5px/23px 'Liberation Sans', Arial, sans-serif;color:#000;letter-spacing:0.848px;transform:scaleX(1.0871);transform-origin:0 0;">were </div>
<div class="t" style="left:872.55px;top:1278px;font:normal 20.5px/23px 'Liberation Sans', Arial, sans-serif;color:#000;letter-spacing:0.103px;transform:scaleX(1.0121);transform-origin:0 0;">10.42 </div>
<div class="t" style="left:935.57px;top:1278px;font:normal 20.5px/23px 'Liberation Sans', Arial, sans-serif;color:#000;letter-spacing:0px;transform:scaleX(0.8925);transform-origin:0 0;">% </div>
<div class="t" style="left:962.51px;top:1278px;font:normal 20.5px/23px 'Liberation Sans', Arial, sans-serif;color:#000;letter-spacing:0.284px;transform:scaleX(1.0418);transform-origin:0 0;">(0.09bps), </div>
<div class="t" style="left:1072.0px;top:1278px;font:normal 20.5px/23px 'Liberation Sans', Arial, sans-serif;color:#000;letter-spacing:-0.073px;transform:scaleX(0.9922);transform-origin:0 0;">12.41% </div>
<div class="t" style="left:1151.3px;top:1278px;font:normal 20.5px/23px 'Liberation Sans', Arial, sans-serif;color:#000;letter-spacing:0.261px;transform:scaleX(1.0398);transform-origin:0 0;">(-0.03bps), </div>
<div class="t" style="left:1267.76px;top:1278px;font:normal 20.5px/23px 'Liberation Sans', Arial, sans-serif;color:#000;letter-spacing:1.379px;transform:scaleX(1.1233);transform-origin:0 0;">and </div>
<div class="t" style="left:84.3px;top:1313px;font:normal 20.5px/23px 'Liberation Sans', Arial, sans-serif;color:#000;letter-spacing:-0.073px;transform:scaleX(0.9922);transform-origin:0 0;">12.97% </div>
<div class="t" style="left:164.35px;top:1313px;font:normal 20.5px/23px 'Liberation Sans', Arial, sans-serif;color:#000;letter-spacing:0.285px;transform:scaleX(1.0414);transform-origin:0 0;">(-0.02bps) </div>
<div class="t" style="left:270.05px;top:1313px;font:normal 20.5px/23px 'Liberation Sans', Arial, sans-serif;color:#000;letter-spacing:0.485px;transform:scaleX(1.0787);transform-origin:0 0;">respectively. </div>
<div class="t" style="left:623.6px;top:1348px;font:bold 20px/22px 'Liberation Sans', Arial, sans-serif;color:#2F5496;letter-spacing:0.393px;transform:scaleX(1.0398);transform-origin:0 0;">LOCAL NEWS</div>
<div class="b" style="left:623.6px;top:1367.2px;width:143.10000000000002px;height:2px;background:#2F5496;"></div>
<div class="b" style="left:73px;top:1384.5px;width:7px;height:7px;border-radius:50%;background:#000;"></div>
<div class="t" style="left:101.2px;top:1377px;font:bold 20px/22px 'Liberation Sans', Arial, sans-serif;color:#2F5496;letter-spacing:0.242px;transform:scaleX(1.0211);transform-origin:0 0;">IMF </div>
<div class="t" style="left:142.87px;top:1377px;font:bold 20px/22px 'Liberation Sans', Arial, sans-serif;color:#2F5496;letter-spacing:0.049px;transform:scaleX(1.0059);transform-origin:0 0;">Mission </div>
<div class="t" style="left:224.08px;top:1377px;font:bold 20px/22px 'Liberation Sans', Arial, sans-serif;color:#2F5496;letter-spacing:0.511px;transform:scaleX(1.0408);transform-origin:0 0;">to </div>
<div class="t" style="left:250.28px;top:1377px;font:bold 20px/22px 'Liberation Sans', Arial, sans-serif;color:#2F5496;letter-spacing:-0.063px;transform:scaleX(0.9909);transform-origin:0 0;">Visit </div>
<div class="t" style="left:297.54px;top:1377px;font:bold 20px/22px 'Liberation Sans', Arial, sans-serif;color:#2F5496;letter-spacing:0.949px;transform:scaleX(1.0929);transform-origin:0 0;">Ghana </div>
<div class="t" style="left:375.74px;top:1377px;font:bold 20px/22px 'Liberation Sans', Arial, sans-serif;color:#2F5496;letter-spacing:0.105px;transform:scaleX(1.0089);transform-origin:0 0;">in </div>
<div class="t" style="left:399.8px;top:1377px;font:bold 20px/22px 'Liberation Sans', Arial, sans-serif;color:#2F5496;letter-spacing:0.529px;transform:scaleX(1.062);transform-origin:0 0;">September </div>
<div class="t" style="left:520.1px;top:1377px;font:bold 20px/22px 'Liberation Sans', Arial, sans-serif;color:#2F5496;letter-spacing:-0.007px;transform:scaleX(0.9992);transform-origin:0 0;">for </div>
<div class="t" style="left:552.75px;top:1377px;font:bold 20px/22px 'Liberation Sans', Arial, sans-serif;color:#2F5496;letter-spacing:0.269px;transform:scaleX(1.027);transform-origin:0 0;">5th </div>
<div class="t" style="left:590.13px;top:1377px;font:bold 20px/22px 'Liberation Sans', Arial, sans-serif;color:#2F5496;letter-spacing:0.528px;transform:scaleX(1.0575);transform-origin:0 0;">Programme </div>
<div class="t" style="left:718.16px;top:1377px;font:bold 20px/22px 'Liberation Sans', Arial, sans-serif;color:#2F5496;letter-spacing:0.428px;transform:scaleX(1.0527);transform-origin:0 0;">Review. </div>
<div class="t" style="left:74.0px;top:1412px;font:normal 20.5px/23px 'Liberation Sans', Arial, sans-serif;color:#000;letter-spacing:1.261px;transform:scaleX(1.0764);transform-origin:0 0;">An </div>
<div class="t" style="left:111.85px;top:1412px;font:normal 20.5px/23px 'Liberation Sans', Arial, sans-serif;color:#000;letter-spacing:-0.215px;transform:scaleX(0.9818);transform-origin:0 0;">IMF </div>
<div class="t" style="left:155.58px;top:1412px;font:normal 20.5px/23px 'Liberation Sans', Arial, sans-serif;color:#000;letter-spacing:0.097px;transform:scaleX(1.0125);transform-origin:0 0;">mission </div>
<div class="t" style="left:236.03px;top:1412px;font:normal 20.5px/23px 'Liberation Sans', Arial, sans-serif;color:#000;letter-spacing:-1.092px;transform:scaleX(0.9);transform-origin:0 0;">is </div>
<div class="t" style="left:257.88px;top:1412px;font:normal 20.5px/23px 'Liberation Sans', Arial, sans-serif;color:#000;letter-spacing:0.306px;transform:scaleX(1.0338);transform-origin:0 0;">set </div>
<div class="t" style="left:296.3px;top:1412px;font:normal 20.5px/23px 'Liberation Sans', Arial, sans-serif;color:#000;letter-spacing:1.417px;transform:scaleX(1.1267);transform-origin:0 0;">to </div>
<div class="t" style="left:326.67px;top:1412px;font:normal 20.5px/23px 'Liberation Sans', Arial, sans-serif;color:#000;letter-spacing:-0.001px;transform:scaleX(0.9998);transform-origin:0 0;">visit </div>
<div class="t" style="left:371.47px;top:1412px;font:normal 20.5px/23px 'Liberation Sans', Arial, sans-serif;color:#000;letter-spacing:1.051px;transform:scaleX(1.1042);transform-origin:0 0;">Ghana </div>
<div class="t" style="left:453.58px;top:1412px;font:normal 20.5px/23px 'Liberation Sans', Arial, sans-serif;color:#000;letter-spacing:0.409px;transform:scaleX(1.0386);transform-origin:0 0;">in </div>
<div class="t" style="left:480.09px;top:1412px;font:normal 20.5px/23px 'Liberation Sans', Arial, sans-serif;color:#000;letter-spacing:0.622px;transform:scaleX(1.0754);transform-origin:0 0;">September </div>
<div class="t" style="left:602.78px;top:1412px;font:normal 20.5px/23px 'Liberation Sans', Arial, sans-serif;color:#000;letter-spacing:0.529px;transform:scaleX(1.067);transform-origin:0 0;">for </div>
<div class="t" style="left:638.95px;top:1412px;font:normal 20.5px/23px 'Liberation Sans', Arial, sans-serif;color:#000;letter-spacing:0.966px;transform:scaleX(1.1034);transform-origin:0 0;">the </div>
<div class="t" style="left:682.03px;top:1412px;font:normal 20.5px/23px 'Liberation Sans', Arial, sans-serif;color:#000;letter-spacing:0.594px;transform:scaleX(1.0632);transform-origin:0 0;">5th </div>
<div class="t" style="left:723.09px;top:1412px;font:normal 20.5px/23px 'Liberation Sans', Arial, sans-serif;color:#000;letter-spacing:0.831px;transform:scaleX(1.0967);transform-origin:0 0;">programme </div>
<div class="t" style="left:854.83px;top:1412px;font:normal 20.5px/23px 'Liberation Sans', Arial, sans-serif;color:#000;letter-spacing:0.571px;transform:scaleX(1.0816);transform-origin:0 0;">review, </div>
<div class="t" style="left:937.05px;top:1412px;font:normal 20.5px/23px 'Liberation Sans', Arial, sans-serif;color:#000;letter-spacing:0.028px;transform:scaleX(1.0037);transform-origin:0 0;">assessing </div>
<div class="t" style="left:1038.28px;top:1412px;font:normal 20.5px/23px 'Liberation Sans', Arial, sans-serif;color:#000;letter-spacing:0.966px;transform:scaleX(1.1034);transform-origin:0 0;">the </div>
<div class="t" style="left:1081.35px;top:1412px;font:normal 20.5px/23px 'Liberation Sans', Arial, sans-serif;color:#000;letter-spacing:0.423px;transform:scaleX(1.0628);transform-origin:0 0;">country’s </div>
<div class="t" style="left:1181.26px;top:1412px;font:normal 20.5px/23px 'Liberation Sans', Arial, sans-serif;color:#000;letter-spacing:0.935px;transform:scaleX(1.114);transform-origin:0 0;">economic </div>
<div class="t" style="left:64.5px;top:1448px;font:normal 20.5px/23px 'Liberation Sans', Arial, sans-serif;color:#000;letter-spacing:0.287px;transform:scaleX(1.0403);transform-origin:0 0;">reforms, </div>
<div class="t" style="left:157.51px;top:1448px;font:normal 20.5px/23px 'Liberation Sans', Arial, sans-serif;color:#000;letter-spacing:0.339px;transform:scaleX(1.0549);transform-origin:0 0;">fiscal </div>
<div class="t" style="left:221.29px;top:1448px;font:normal 20.5px/23px 'Liberation Sans', Arial, sans-serif;color:#000;letter-spacing:0.697px;transform:scaleX(1.0967);transform-origin:0 0;">performance, </div>
<div class="t" style="left:374.86px;top:1448px;font:normal 20.5px/23px 'Liberation Sans', Arial, sans-serif;color:#000;letter-spacing:1.379px;transform:scaleX(1.1233);transform-origin:0 0;">and </div>
<div class="t" style="left:429.11px;top:1448px;font:normal 20.5px/23px 'Liberation Sans', Arial, sans-serif;color:#000;letter-spacing:0.282px;transform:scaleX(1.0374);transform-origin:0 0;">progress </div>
<div class="t" style="left:526.61px;top:1448px;font:normal 20.5px/23px 'Liberation Sans', Arial, sans-serif;color:#000;letter-spacing:0.72px;transform:scaleX(1.0835);transform-origin:0 0;">under </div>
<div class="t" style="left:599.25px;top:1448px;font:normal 20.5px/23px 'Liberation Sans', Arial, sans-serif;color:#000;letter-spacing:0.966px;transform:scaleX(1.1034);transform-origin:0 0;">the </div>
<div class="t" style="left:645.54px;top:1448px;font:normal 20.5px/23px 'Liberation Sans', Arial, sans-serif;color:#000;letter-spacing:0.802px;transform:scaleX(1.1005);transform-origin:0 0;">ongoing </div>
<div class="t" style="left:743.84px;top:1448px;font:normal 20.5px/23px 'Liberation Sans', Arial, sans-serif;color:#000;letter-spacing:0.654px;transform:scaleX(1.0989);transform-origin:0 0;">bailout </div>
<div class="t" style="left:827.25px;top:1448px;font:normal 20.5px/23px 'Liberation Sans', Arial, sans-serif;color:#000;letter-spacing:0.745px;transform:scaleX(1.0924);transform-origin:0 0;">programme. </div>
<div class="t" style="left:968.02px;top:1448px;font:normal 20.5px/23px 'Liberation Sans', Arial, sans-serif;color:#000;letter-spacing:0.016px;transform:scaleX(1.0013);transform-origin:0 0;">The </div>
<div class="t" style="left:1016.13px;top:1448px;font:normal 20.5px/23px 'Liberation Sans', Arial, sans-serif;color:#000;letter-spacing:0.336px;transform:scaleX(1.0483);transform-origin:0 0;">review’s </div>
<div class="t" style="left:1108.53px;top:1448px;font:normal 20.5px/23px 'Liberation Sans', Arial, sans-serif;color:#000;letter-spacing:0.989px;transform:scaleX(1.1153);transform-origin:0 0;">outcome </div>
<div class="t" style="left:1215.57px;top:1448px;font:normal 20.5px/23px 'Liberation Sans', Arial, sans-serif;color:#000;letter-spacing:0.208px;transform:scaleX(1.033);transform-origin:0 0;">will </div>
<div class="t" style="left:1258.33px;top:1448px;font:normal 20.5px/23px 'Liberation Sans', Arial, sans-serif;color:#000;letter-spacing:1.939px;transform:scaleX(1.1301);transform-origin:0 0;">be </div>
<div class="t" style="left:64.5px;top:1483px;font:normal 20.5px/23px 'Liberation Sans', Arial, sans-serif;color:#000;letter-spacing:0.621px;transform:scaleX(1.0958);transform-origin:0 0;">crucial </div>
<div class="t" style="left:141.24px;top:1483px;font:normal 20.5px/23px 'Liberation Sans', Arial, sans-serif;color:#000;letter-spacing:0.529px;transform:scaleX(1.067);transform-origin:0 0;">for </div>
<div class="t" style="left:175.64px;top:1483px;font:normal 20.5px/23px 'Liberation Sans', Arial, sans-serif;color:#000;letter-spacing:0.966px;transform:scaleX(1.1034);transform-origin:0 0;">the </div>
<div class="t" style="left:216.95px;top:1483px;font:normal 20.5px/23px 'Liberation Sans', Arial, sans-serif;color:#000;letter-spacing:0.631px;transform:scaleX(1.0742);transform-origin:0 0;">next </div>
<div class="t" style="left:268.34px;top:1483px;font:normal 20.5px/23px 'Liberation Sans', Arial, sans-serif;color:#000;letter-spacing:0.43px;transform:scaleX(1.0581);transform-origin:0 0;">disbursement </div>
<div class="t" style="left:411.3px;top:1483px;font:normal 20.5px/23px 'Liberation Sans', Arial, sans-serif;color:#000;letter-spacing:1.379px;transform:scaleX(1.1233);transform-origin:0 0;">and </div>
<div class="t" style="left:460.57px;top:1483px;font:normal 20.5px/23px 'Liberation Sans', Arial, sans-serif;color:#000;letter-spacing:0.606px;transform:scaleX(1.0727);transform-origin:0 0;">Ghana’s </div>
<div class="t" style="left:553.71px;top:1483px;font:normal 20.5px/23px 'Liberation Sans', Arial, sans-serif;color:#000;letter-spacing:0.935px;transform:scaleX(1.114);transform-origin:0 0;">economic </div>
<div class="t" style="left:666.48px;top:1483px;font:normal 20.5px/23px 'Liberation Sans', Arial, sans-serif;color:#000;letter-spacing:0.318px;transform:scaleX(1.0564);transform-origin:0 0;">stability </div>
<div class="t" style="left:749.12px;top:1483px;font:normal 20.5px/23px 'Liberation Sans', Arial, sans-serif;color:#000;letter-spacing:0.361px;transform:scaleX(1.0579);transform-origin:0 0;">efforts </div>
<div class="t" style="left:565px;top:1581px;font:bold 20px/22px 'Liberation Sans', Arial, sans-serif;color:#2F5496;letter-spacing:0.011px;transform:scaleX(1.0012);transform-origin:0 0;">INTERNATIONAL NEWS</div>
<div class="b" style="left:565px;top:1600.8px;width:227.5px;height:2px;background:#2F5496;"></div>
<div class="b" style="left:73px;top:1623px;width:7px;height:7px;border-radius:50%;background:#000;"></div>
<div class="t" style="left:101.2px;top:1616px;font:bold 20px/22px 'Liberation Sans', Arial, sans-serif;color:#2F5496;letter-spacing:0.595px;transform:scaleX(1.0601);transform-origin:0 0;">Kenya </div>
<div class="t" style="left:173.34px;top:1616px;font:bold 20px/22px 'Liberation Sans', Arial, sans-serif;color:#2F5496;letter-spacing:0.357px;transform:scaleX(1.0313);transform-origin:0 0;">has </div>
<div class="t" style="left:215.6px;top:1616px;font:bold 20px/22px 'Liberation Sans', Arial, sans-serif;color:#2F5496;letter-spacing:0.423px;transform:scaleX(1.0557);transform-origin:0 0;">introduced </div>
<div class="t" style="left:334.69px;top:1616px;font:bold 20px/22px 'Liberation Sans', Arial, sans-serif;color:#2F5496;letter-spacing:0.896px;transform:scaleX(1.0698);transform-origin:0 0;">new </div>
<div class="t" style="left:384.21px;top:1616px;font:bold 20px/22px 'Liberation Sans', Arial, sans-serif;color:#2F5496;letter-spacing:0.561px;transform:scaleX(1.0666);transform-origin:0 0;">banking </div>
<div class="t" style="left:475.56px;top:1616px;font:bold 20px/22px 'Liberation Sans', Arial, sans-serif;color:#2F5496;letter-spacing:0.282px;transform:scaleX(1.0426);transform-origin:0 0;">policies. </div>
<div class="t" style="left:567.33px;top:1616px;font:bold 20px/22px 'Liberation Sans', Arial, sans-serif;color:#2F5496;letter-spacing:0.755px;transform:scaleX(1.0428);transform-origin:0 0;">An </div>
<div class="t" style="left:601.91px;top:1616px;font:bold 20px/22px 'Liberation Sans', Arial, sans-serif;color:#2F5496;letter-spacing:0.409px;transform:scaleX(1.0495);transform-origin:0 0;">economist </div>
<div class="t" style="left:716.31px;top:1616px;font:bold 20px/22px 'Liberation Sans', Arial, sans-serif;color:#2F5496;letter-spacing:0.341px;transform:scaleX(1.038);transform-origin:0 0;">weighs </div>
<div class="t" style="left:794.42px;top:1616px;font:bold 20px/22px 'Liberation Sans', Arial, sans-serif;color:#2F5496;letter-spacing:0.664px;transform:scaleX(1.0631);transform-origin:0 0;">them </div>
<div class="t" style="left:853.33px;top:1616px;font:bold 20px/22px 'Liberation Sans', Arial, sans-serif;color:#2F5496;letter-spacing:0.558px;transform:scaleX(1.0563);transform-origin:0 0;">up. </div>
<div class="t" style="left:64.5px;top:1654px;font:normal 20.5px/23px 'Liberation Sans', Arial, sans-serif;color:#000;letter-spacing:0.613px;transform:scaleX(1.064);transform-origin:0 0;">Kenya </div>
<div class="t" style="left:142.44px;top:1654px;font:normal 20.5px/23px 'Liberation Sans', Arial, sans-serif;color:#000;letter-spacing:-0.098px;transform:scaleX(0.9844);transform-origin:0 0;">rolls </div>
<div class="t" style="left:192.53px;top:1654px;font:normal 20.5px/23px 'Liberation Sans', Arial, sans-serif;color:#000;letter-spacing:0.978px;transform:scaleX(1.1046);transform-origin:0 0;">out </div>
<div class="t" style="left:239.63px;top:1654px;font:normal 20.5px/23px 'Liberation Sans', Arial, sans-serif;color:#000;letter-spacing:1.202px;transform:scaleX(1.0974);transform-origin:0 0;">new </div>
<div class="t" style="left:297.01px;top:1654px;font:normal 20.5px/23px 'Liberation Sans', Arial, sans-serif;color:#000;letter-spacing:0.723px;transform:scaleX(1.092);transform-origin:0 0;">banking </div>
<div class="t" style="left:393.63px;top:1654px;font:normal 20.5px/23px 'Liberation Sans', Arial, sans-serif;color:#000;letter-spacing:0.425px;transform:scaleX(1.066);transform-origin:0 0;">policies </div>
<div class="t" style="left:483.16px;top:1654px;font:normal 20.5px/23px 'Liberation Sans', Arial, sans-serif;color:#000;letter-spacing:0.99px;transform:scaleX(1.1082);transform-origin:0 0;">aimed </div>
<div class="t" style="left:562.9px;top:1654px;font:normal 20.5px/23px 'Liberation Sans', Arial, sans-serif;color:#000;letter-spacing:1.717px;transform:scaleX(1.14);transform-origin:0 0;">at </div>
<div class="t" style="left:597.83px;top:1654px;font:normal 20.5px/23px 'Liberation Sans', Arial, sans-serif;color:#000;letter-spacing:0.498px;transform:scaleX(1.073);transform-origin:0 0;">strengthening </div>
<div class="t" style="left:751.01px;top:1654px;font:normal 20.5px/23px 'Liberation Sans', Arial, sans-serif;color:#000;letter-spacing:0.567px;transform:scaleX(1.0919);transform-origin:0 0;">financial </div>
<div class="t" style="left:851.56px;top:1654px;font:normal 20.5px/23px 'Liberation Sans', Arial, sans-serif;color:#000;letter-spacing:0.318px;transform:scaleX(1.0564);transform-origin:0 0;">stability </div>
<div class="t" style="left:939.93px;top:1654px;font:normal 20.5px/23px 'Liberation Sans', Arial, sans-serif;color:#000;letter-spacing:1.379px;transform:scaleX(1.1233);transform-origin:0 0;">and </div>
<div class="t" style="left:994.94px;top:1654px;font:normal 20.5px/23px 'Liberation Sans', Arial, sans-serif;color:#000;letter-spacing:0.586px;transform:scaleX(1.0802);transform-origin:0 0;">improving </div>
<div class="t" style="left:1109.48px;top:1654px;font:normal 20.5px/23px 'Liberation Sans', Arial, sans-serif;color:#000;letter-spacing:0.693px;transform:scaleX(1.1055);transform-origin:0 0;">credit </div>
<div class="t" style="left:1182.2px;top:1654px;font:normal 20.5px/23px 'Liberation Sans', Arial, sans-serif;color:#000;letter-spacing:0.502px;transform:scaleX(1.0657);transform-origin:0 0;">access. </div>
<div class="t" style="left:1272.95px;top:1654px;font:normal 20.5px/23px 'Liberation Sans', Arial, sans-serif;color:#000;letter-spacing:1.261px;transform:scaleX(1.0764);transform-origin:0 0;">An </div>
<div class="t" style="left:64.5px;top:1693px;font:normal 20.5px/23px 'Liberation Sans', Arial, sans-serif;color:#000;letter-spacing:0.638px;transform:scaleX(1.083);transform-origin:0 0;">economist </div>
<div class="t" style="left:188.73px;top:1693px;font:normal 20.5px/23px 'Liberation Sans', Arial, sans-serif;color:#000;letter-spacing:0.377px;transform:scaleX(1.0493);transform-origin:0 0;">analyzes </div>
<div class="t" style="left:293.91px;top:1693px;font:normal 20.5px/23px 'Liberation Sans', Arial, sans-serif;color:#000;letter-spacing:0.966px;transform:scaleX(1.1034);transform-origin:0 0;">the </div>
<div class="t" style="left:345.0px;top:1693px;font:normal 20.5px/23px 'Liberation Sans', Arial, sans-serif;color:#000;letter-spacing:0.438px;transform:scaleX(1.0707);transform-origin:0 0;">implications, </div>
<div class="t" style="left:488.9px;top:1693px;font:normal 20.5px/23px 'Liberation Sans', Arial, sans-serif;color:#000;letter-spacing:0.682px;transform:scaleX(1.0898);transform-origin:0 0;">weighing </div>
<div class="t" style="left:599.8px;top:1693px;font:normal 20.5px/23px 'Liberation Sans', Arial, sans-serif;color:#000;letter-spacing:0.665px;transform:scaleX(1.1048);transform-origin:0 0;">potential </div>
<div class="t" style="left:708.82px;top:1693px;font:normal 20.5px/23px 'Liberation Sans', Arial, sans-serif;color:#000;letter-spacing:0.479px;transform:scaleX(1.0709);transform-origin:0 0;">benefits </div>
<div class="t" style="left:806.82px;top:1693px;font:normal 20.5px/23px 'Liberation Sans', Arial, sans-serif;color:#000;letter-spacing:0.529px;transform:scaleX(1.067);transform-origin:0 0;">for </div>
<div class="t" style="left:851.0px;top:1693px;font:normal 20.5px/23px 'Liberation Sans', Arial, sans-serif;color:#000;letter-spacing:0.935px;transform:scaleX(1.114);transform-origin:0 0;">economic </div>
<div class="t" style="left:973.55px;top:1693px;font:normal 20.5px/23px 'Liberation Sans', Arial, sans-serif;color:#000;letter-spacing:0.768px;transform:scaleX(1.0951);transform-origin:0 0;">growth </div>
<div class="t" style="left:1062.65px;top:1693px;font:normal 20.5px/23px 'Liberation Sans', Arial, sans-serif;color:#000;letter-spacing:0.576px;transform:scaleX(1.0795);transform-origin:0 0;">against </div>
<div class="t" style="left:1155.25px;top:1693px;font:normal 20.5px/23px 'Liberation Sans', Arial, sans-serif;color:#000;letter-spacing:0.578px;transform:scaleX(1.0806);transform-origin:0 0;">challenges </div>
<div class="t" style="left:1284.29px;top:1693px;font:normal 20.5px/23px 'Liberation Sans', Arial, sans-serif;color:#000;letter-spacing:0.409px;transform:scaleX(1.0386);transform-origin:0 0;">in </div>
<div class="t" style="left:64.5px;top:1732px;font:normal 20.5px/23px 'Liberation Sans', Arial, sans-serif;color:#000;letter-spacing:0.62px;transform:scaleX(1.0913);transform-origin:0 0;">implementation. </div>
<div class="t" style="left:3px;top:1817px;font:normal 13.8px/15px 'Liberation Sans', Arial, sans-serif;color:#000;letter-spacing:0.633px;">***Licensed by the Securities and Exchange Commission and the Bank of Ghana.</div>
<div class="t" style="left:7px;top:1835px;font:normal 13.8px/15px 'Liberation Sans', Arial, sans-serif;color:#000;letter-spacing:0.725px;">Sources: Bank of Ghana, Ministry of Finance, Bloomberg, Reuters, dmarketforces.com, norvanreports.com, citibusinessnews.com, cnbc.com, Graphic.com.gh</div>
<div class="b" style="left:3px;top:1852px;width:1411px;height:145.5px;background:#A8CBE6;"></div>
<div class="t" style="left:68.2px;top:1868px;font:normal 16px/17px 'Liberation Sans', Arial, sans-serif;color:#000;letter-spacing:0.806px;">+233249226204</div>
<div class="t" style="left:68.2px;top:1907px;font:normal 16px/17px 'Liberation Sans', Arial, sans-serif;color:#000;letter-spacing:1.053px;">info@savvysecurities.com</div>
<div class="t" style="left:68.2px;top:1947px;font:normal 16px/17px 'Liberation Sans', Arial, sans-serif;color:#000;letter-spacing:1.092px;">www.savvysecurities.com</div>
<div class="t" style="left:347.8px;top:1884px;font:normal 16px/17px 'Liberation Sans', Arial, sans-serif;color:#000;width:1032.78px;text-align:justify;text-align-last:justify;letter-spacing:1.28px;">Disclaimer: The information contained in this report was obtained from sources believed to be reliable. As a result, Savvy</div>
<div class="t" style="left:347.8px;top:1904px;font:normal 16px/17px 'Liberation Sans', Arial, sans-serif;color:#000;width:1032.78px;text-align:justify;text-align-last:justify;letter-spacing:1.28px;">Securities Limited Company makes no representations about their timeliness, accuracy, or completeness. This report is</div>
<div class="t" style="left:347.8px;top:1924px;font:normal 16px/17px 'Liberation Sans', Arial, sans-serif;color:#000;width:1032.78px;text-align:justify;text-align-last:justify;letter-spacing:1.28px;">only intended to provide general information. Nothing in this report constitutes individual investment, legal, or tax advice.</div>
<div class="t" style="left:347.8px;top:1944px;font:normal 16px/17px 'Liberation Sans', Arial, sans-serif;color:#000;letter-spacing:1.28px;">Savvy accepts no responsibility for any loss incurred as a result of using this report.</div>
<svg width="80" height="150" viewBox="0 0 80 150" style="left:0;top:1855px">
<circle cx="45.2" cy="29.4" r="9.6" fill="#9DB6CC"/><path d="M45.2 19.8 a9.6 9.6 0 0 1 0 19.2" fill="none" stroke="#7E96AD" stroke-width="1.6"/><path d="M40.6 23.6 q-2.2 5.6 2 10.4 q3.4 2.6 7 0.4 l-2.2 -3 q-2.4 1.2 -4 -1 q-1.7 -2.4 -0.4 -4.8 z" fill="#4E6278"/>
<path d="M32.4 64 q0 -9 10.8 -9 q10.9 0 10.9 9 v8 q0 3.8 -3.8 3.8 h-14.1 q-3.8 0 -3.8 -3.8 z" fill="#111"/><rect x="36.6" y="64" width="14.2" height="8.4" rx="1.6" fill="#B7D3EA"/><path d="M37 64.6 l6.7 3.6 l6.7 -3.6" fill="none" stroke="#111" stroke-width="1.3"/>
<rect x="32.4" y="99.4" width="22.6" height="22.2" rx="9.5" fill="#111"/><circle cx="43.6" cy="109.8" r="7.2" fill="#8FADC8"/><path d="M36.4 109.8 h14.4 M43.6 102.6 v14.4" stroke="#5F7890" stroke-width="0.9" fill="none"/><ellipse cx="43.6" cy="109.8" rx="3.3" ry="7.2" fill="none" stroke="#5F7890" stroke-width="0.8"/>
</svg>
</body></html>
